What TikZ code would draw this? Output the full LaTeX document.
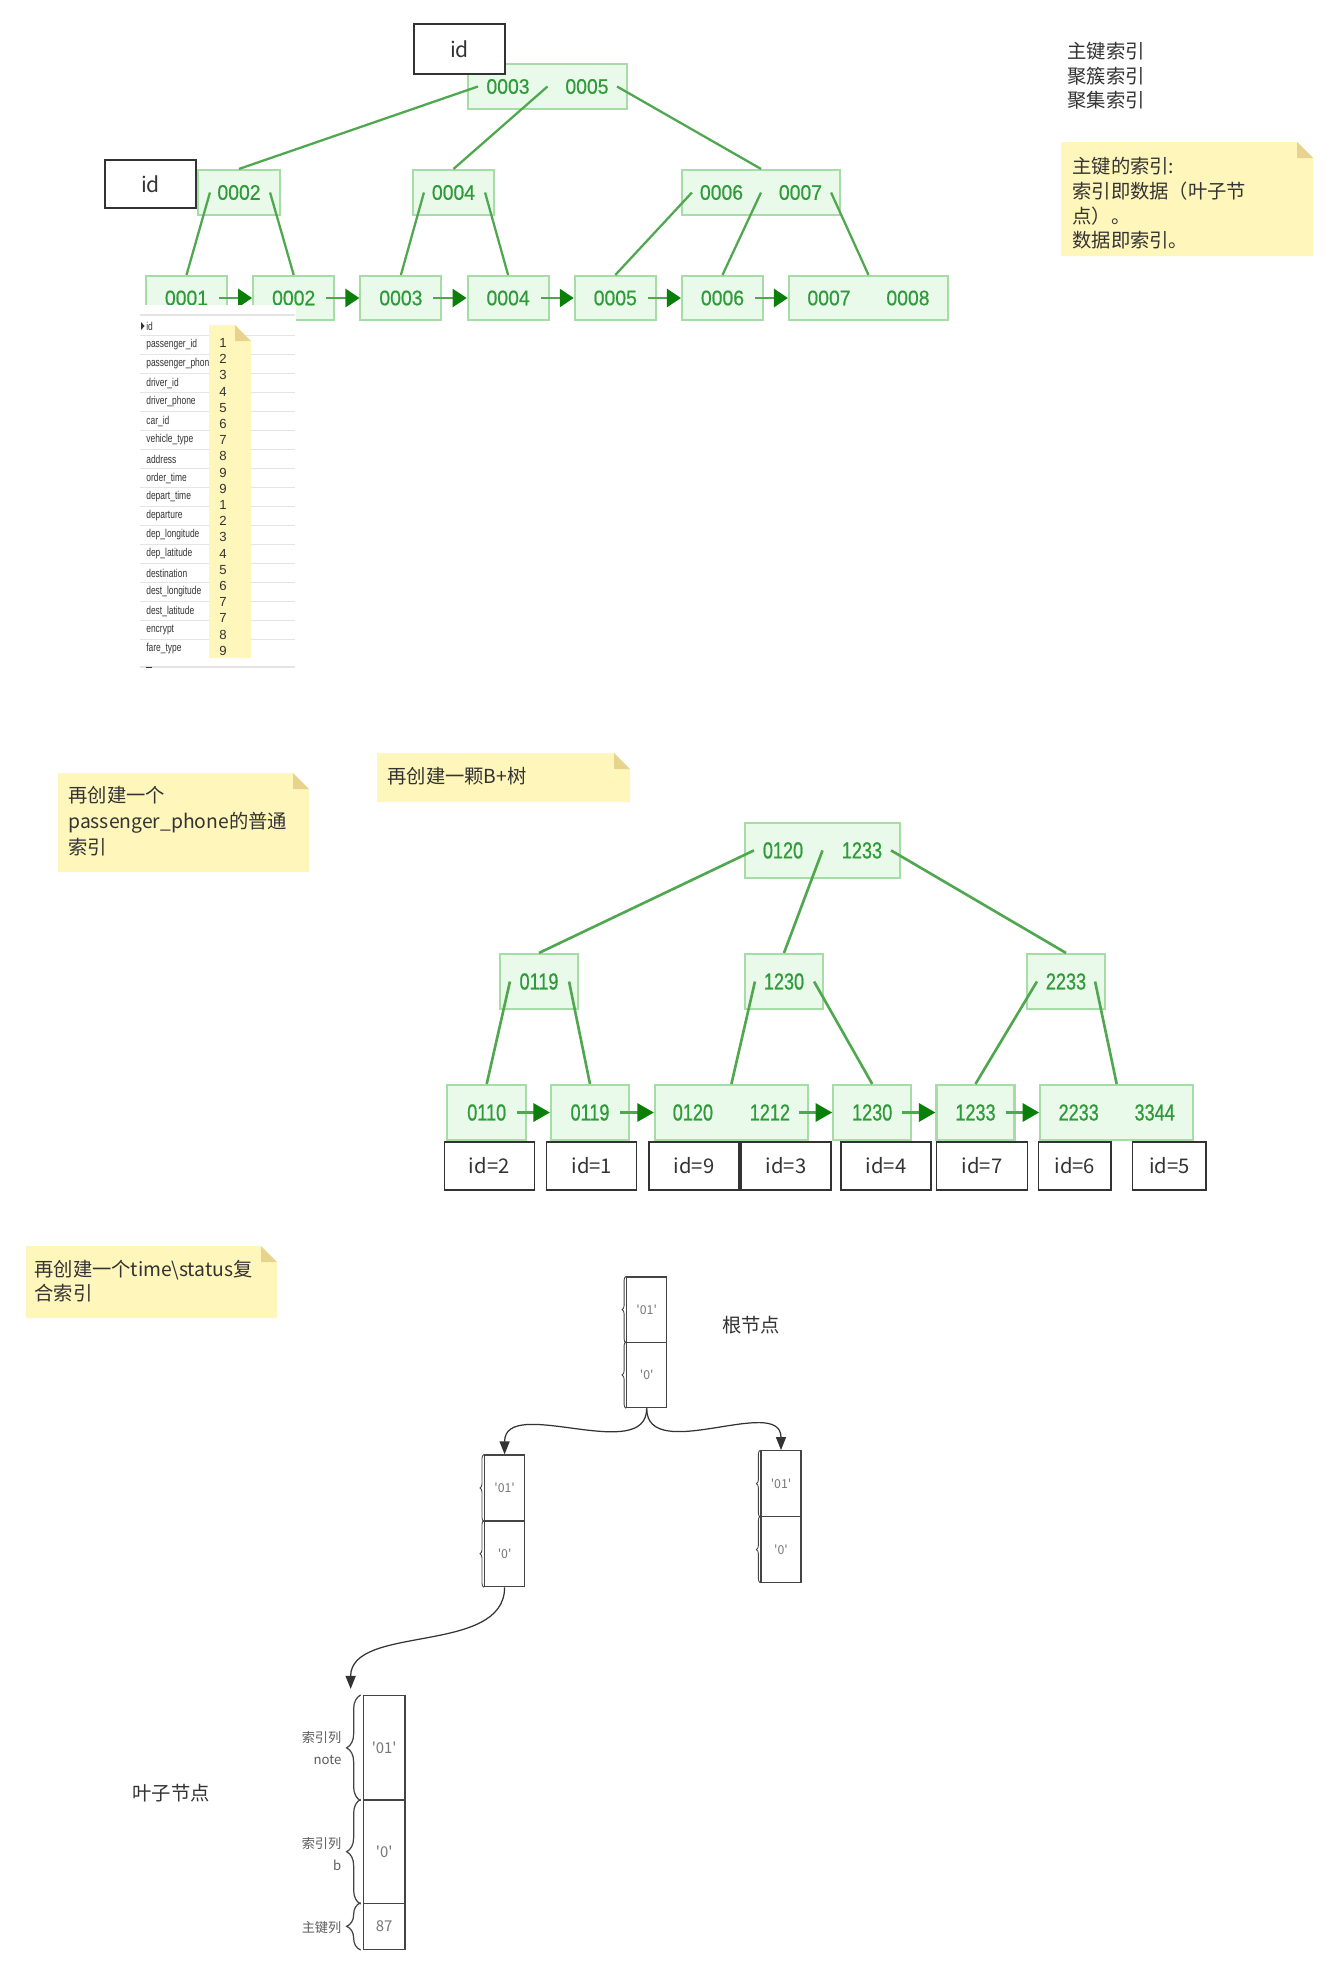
\documentclass[tikz,border=0pt]{standalone}
\usepackage{fontspec}
\setmainfont{Noto Sans CJK SC}
\newfontfamily\numfont[FakeStretch=0.92,FakeBold=0.5]{Liberation Sans}
\newfontfamily\numfontn[FakeStretch=0.78,FakeBold=0.7]{Liberation Sans}
\newfontfamily\tblfont[FakeStretch=0.74]{Liberation Sans}
\newfontfamily\digfont{Liberation Sans}
\usetikzlibrary{arrows.meta,calc,decorations.pathreplacing}

\definecolor{gfill}{HTML}{EAFAEA}
\definecolor{gborder}{HTML}{A6DCA6}
\definecolor{gtext}{HTML}{2E9A3A}
\definecolor{glink}{HTML}{4FA84F}
\definecolor{garrow}{HTML}{0A7F0A}
\definecolor{notefill}{HTML}{FFF6BC}
\definecolor{notefold}{HTML}{E8D38E}
\definecolor{txt}{HTML}{333333}
\definecolor{sepgray}{HTML}{E4E4E4}
\definecolor{celltext}{HTML}{777777}
\definecolor{colline}{HTML}{444444}

\newcommand{\px}{0.02cm}
\newcommand{\sq}{\textquotesingle}
\newcommand{\twokeys}[3]{\makebox[#1]{\makebox[0pt]{#2}\hfill\makebox[0pt]{#3}}}
% yellow sticky note: x1,y1,x2,y2
\newcommand{\notepaper}[4]{%
  \fill[notefill] (#1,#2) -- ({#3-16},#2) -- (#3,{#2+16}) -- (#3,#4) -- (#1,#4) -- cycle;
  \fill[notefold] ({#3-16},#2) -- (#3,{#2+16}) -- ({#3-16},{#2+16}) -- cycle;}

\tikzset{
  gkey/.style={draw=gborder, fill=gfill, line width=1.2pt, inner sep=0pt, text=gtext,
    minimum height=45*\px, font=\numfont\fontsize{12}{12}\selectfont},
  gkeyn/.style={gkey, minimum height=55*\px, font=\numfontn\fontsize{13.2}{13.2}\selectfont},
  idbox/.style={draw=txt, fill=white, line width=0.8pt, inner sep=0pt, text=txt,
    font=\fontsize{12}{14}\selectfont},
  link/.style={draw=glink, line width=1.3pt},
  linkn/.style={draw=glink, line width=1.5pt},
  nexttop/.style={draw=glink, line width=1.6pt, -{Triangle[length=0.28cm, width=0.36cm, color=garrow]}},
  nextmid/.style={draw=glink, line width=1.8pt, -{Triangle[length=0.33cm, width=0.36cm, color=garrow]}},
  cntext/.style={inner sep=0pt, text=txt, align=left, font=\fontsize{11}{14}\selectfont},
  colname/.style={anchor=west, inner sep=0pt, text=txt, font=\tblfont\fontsize{6.5}{7}\selectfont},
  numlabel/.style={inner sep=0pt, text=txt, font=\digfont\fontsize{7.5}{8}\selectfont},
  cell/.style={draw=colline, line width=0.7pt, inner sep=0pt, minimum width=40*\px, text=celltext,
    font=\fontsize{7}{8}\selectfont},
  tinybrace/.style={draw=colline, line width=0.5pt, decorate, decoration={brace, amplitude=0.08cm}},
  leafbrace/.style={draw=colline, line width=0.7pt, decorate, decoration={brace, amplitude=0.28cm}},
  sidelabel/.style={anchor=east, inner sep=0pt, align=right, text=txt!80,
    font=\fontsize{7.5}{12}\selectfont},
  flow/.style={draw=txt, line width=0.7pt, -{Triangle[length=0.26cm, width=0.2cm]}}
}

\begin{document}
\begin{tikzpicture}[x=0.02cm, y=-0.02cm]
\useasboundingbox (0,0) rectangle (1338,1978);
\fill[white] (0,0) rectangle (1338,1978);

% primary key tree
\node[gkey, minimum width=159*\px] (t0) at (547.5,86.5) {\twokeys{1.58cm}{0003}{0005}};
\node[gkey, minimum width=82*\px] (t1) at (239,192.5) {0002};
\node[gkey, minimum width=81*\px] (t2) at (453.5,192.5) {0004};
\node[gkey, minimum width=158*\px] (t3) at (761,192.5) {\twokeys{1.58cm}{0006}{0007}};
\foreach \i/\x/\k in {1/186.5/0001,2/293.7/0002,3/400.9/0003,4/508.1/0004,5/615.3/0005,6/722.5/0006}
  \node[gkey, minimum width=81*\px, minimum height=44*\px] (l\i) at (\x,298) {\k};
\node[gkey, minimum width=159*\px, minimum height=44*\px] (l7) at (868.5,298) {\twokeys{1.58cm}{0007}{0008}};
\node[idbox, minimum width=91*\px, minimum height=50*\px] (idtop) at (459.5,49) {id};
\node[idbox, minimum width=91*\px, minimum height=48*\px] (idleft) at (150.5,184) {id};

\draw[link] ($(t0.west)+(11,0)$) -- (t1.north);
\draw[link] (t0.center) -- (t2.north);
\draw[link] ($(t0.east)+(-11,0)$) -- (t3.north);
\draw[link] ($(t1.west)+(13,0)$) -- (l1.north);
\draw[link] ($(t1.east)+(-11,0)$) -- (l2.north);
\draw[link] ($(t2.west)+(12,0)$) -- (l3.north);
\draw[link] ($(t2.east)+(-10,0)$) -- (l4.north);
\draw[link] ($(t3.west)+(11,0)$) -- (l5.north);
\draw[link] (t3.center) -- (l6.north);
\draw[link] ($(t3.east)+(-10,0)$) -- (l7.north);
\foreach \a/\b in {1/2,2/3,3/4,4/5,5/6,6/7}
  \draw[nexttop] ($(l\a.east)+(-9,0)$) -- (l\b.west);

% table columns
\fill[white] (138,305) rectangle (296,672);
\draw[sepgray, line width=0.6pt] (140,315) -- (295,315);
\foreach \k in {0,...,16}
  \draw[sepgray, line width=0.5pt] (140,{335.5+19*\k}) -- (295,{335.5+19*\k});
\draw[sepgray, line width=0.6pt] (140,667) -- (295,667);
\draw[txt, line width=0.5pt] (146,667) -- (152,667);
\fill[txt] (141,322) -- (144.5,326) -- (141,330) -- cycle;
\foreach \n [count=\k from 0] in {id,passenger\_id,passenger\_phone,driver\_id,driver\_phone,car\_id,
    vehicle\_type,address,order\_time,depart\_time,departure,dep\_longitude,dep\_latitude,
    destination,dest\_longitude,dest\_latitude,encrypt,fare\_type}
  \node[colname] (col\k) at (146,{326+19*\k}) {\n};
\notepaper{209}{325}{251}{658}
\foreach \v [count=\k from 0] in {1,2,3,4,5,6,7,8,9,9,1,2,3,4,5,6,7,7,8,9}
  \node[numlabel] (num\k) at (223,{343+16.2*\k}) {\v};

% right hand texts
\node[cntext, anchor=west] (names) at (1067,76) {主键索引\\聚簇索引\\聚集索引};
\notepaper{1061}{142}{1313}{256}
\node[cntext, anchor=west] (pknote) at (1072,203.5) {主键的索引:\\索引即数据（叶子节\\点）。\\数据即索引。};

% secondary index tree
\notepaper{58}{773}{309}{872}
\node[cntext, anchor=west, font=\fontsize{11}{14.7}\selectfont] (phonenote) at (68,821) {再创建一个\\passenger\_phone的普通\\索引};
\notepaper{377}{753}{630}{802}
\node[cntext, anchor=west] (treenote) at (387,776) {再创建一颗B+树};

\node[gkeyn, minimum width=155*\px] (m0) at (822.5,850.4) {\twokeys{1.58cm}{0120}{1233}};
\node[gkeyn, minimum width=78*\px] (m1) at (539,981.5) {0119};
\node[gkeyn, minimum width=78*\px] (m2) at (784,981.5) {1230};
\node[gkeyn, minimum width=78*\px] (m3) at (1066,981.5) {2233};
\node[gkeyn, minimum width=79*\px] (n1) at (486.7,1112.5) {0110};
\node[gkeyn, minimum width=78*\px] (n2) at (590,1112.5) {0119};
\node[gkeyn, minimum width=153*\px] (n3) at (731.4,1112.5) {\twokeys{1.54cm}{0120}{1212}};
\node[gkeyn, minimum width=78*\px] (n4) at (872.2,1112.5) {1230};
\node[gkeyn, minimum width=78*\px] (n5) at (975.5,1112.5) {1233};
\node[gkeyn, minimum width=153*\px] (n6) at (1116.7,1112.5) {\twokeys{1.52cm}{2233}{3344}};

\draw[linkn] ($(m0.west)+(10,0)$) -- (m1.north);
\draw[linkn] (m0.center) -- (m2.north);
\draw[linkn] ($(m0.east)+(-10,0)$) -- (m3.north);
\draw[linkn] ($(m1.west)+(11,0)$) -- (n1.north);
\draw[linkn] ($(m1.east)+(-10,0)$) -- (n2.north);
\draw[linkn] ($(m2.west)+(11,0)$) -- (n3.north);
\draw[linkn] ($(m2.east)+(-10,0)$) -- (n4.north);
\draw[linkn] ($(m3.west)+(11,0)$) -- (n5.north);
\draw[linkn] ($(m3.east)+(-11,0)$) -- (n6.north);
\foreach \a/\b in {1/2,2/3,3/4,4/5,5/6}
  \draw[nextmid] ($(n\a.east)+(-10,0)$) -- (n\b.west);

\foreach \n/\x/\w/\t in {i2/489.2/90/2,i1/591.7/90/1,i9/694/90/9,i3/786/90/3,
    i4/886/90/4,i7/982/90.6/7,i6/1074.7/72.7/6,i5/1169.4/73.3/5}
  \node[idbox, minimum width=\w*\px, minimum height=48*\px, font=\fontsize{11.5}{13}\selectfont] (\n) at (\x,1166) {id=\t};

% composite index
\notepaper{26}{1246}{277}{1318}
\node[cntext, anchor=west] (compnote) at (34,1281) {再创建一个time\textbackslash status复\\合索引};

\node[cell, minimum height=65.3*\px] (r0) at (646.7,1309.6) {\sq01\sq};
\node[cell, minimum height=65.4*\px] (r1) at (646.7,1375) {\sq0\sq};
\node[cell, minimum height=66*\px] (c0) at (504.6,1488) {\sq01\sq};
\node[cell, minimum height=65.7*\px] (c1) at (504.6,1553.8) {\sq0\sq};
\node[cell, minimum height=66*\px] (d0) at (781,1483.7) {\sq01\sq};
\node[cell, minimum height=65.6*\px] (d1) at (781,1549.5) {\sq0\sq};
\foreach \c in {r0,r1,c0,c1,d0,d1}
  \draw[tinybrace] (\c.south west) -- (\c.north west);
\node[cntext, anchor=west] (rootlbl) at (721.7,1325) {根节点};

\node[cell, minimum width=41.7*\px, minimum height=104.3*\px, line width=0.8pt, font=\fontsize{8.5}{10}\selectfont] (f0) at (384.2,1747.8) {\sq01\sq};
\node[cell, minimum width=41.7*\px, minimum height=103.3*\px, line width=0.8pt, font=\fontsize{8.5}{10}\selectfont] (f1) at (384.2,1851.7) {\sq0\sq};
\node[cell, minimum width=41.7*\px, minimum height=46*\px, line width=0.8pt, font=\fontsize{8.5}{10}\selectfont] (f2) at (384.2,1926.3) {87};
\foreach \c in {f0,f1,f2}
  \draw[leafbrace] ($(\c.south west)+(-2,0)$) -- ($(\c.north west)+(-2,0)$);
\node[sidelabel] (f0lbl) at (341.7,1748) {索引列\\note};
\node[sidelabel] (f1lbl) at (341.7,1854) {索引列\\b};
\node[sidelabel] (f2lbl) at (341.7,1927.7) {主键列};
\node[cntext, anchor=west] (leaflbl) at (132,1793) {叶子节点};

\coordinate (leafin) at ($(f0.north west)+(-12,-6)$);
\draw[flow] (r1.south) .. controls +(0,57) and +(0,-60) .. (c0.north);
\draw[flow] (r1.south) .. controls +(0,57) and +(0,-56) .. (d0.north);
\draw[flow] (c1.south) .. controls +(0,68) and +(0,-65) .. (leafin);
\end{tikzpicture}
\end{document}
